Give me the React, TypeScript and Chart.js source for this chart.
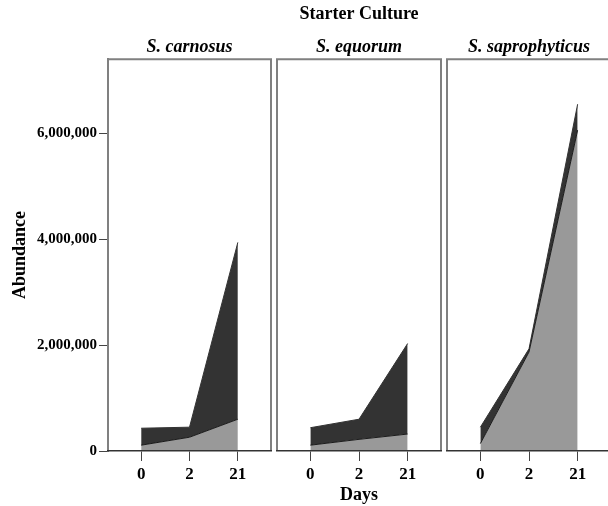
import React, { useEffect, useRef } from 'react';
import { Chart, registerables } from 'chart.js';

Chart.register(...registerables);

// ---- data ----
const MAIN_TITLE = 'Starter Culture';
const X_TITLE = 'Days';
const Y_TITLE = 'Abundance';
const DAY_LABELS = ['0', '2', '21'];
const SPECIES = ['S. carnosus', 'S. equorum', 'S. saprophyticus'];
const Y_TICKS = [0, 2000000, 4000000, 6000000];
const Y_MAX = 7400000;
const X_MIN = -0.686;
const X_MAX = 2.686;

// lower (light grey) and upper (dark) stacked areas per starter culture
const CARNOSUS_LOWER = [110000, 260000, 600000];
const CARNOSUS_UPPER = [320000, 190000, 3340000];
const EQUORUM_LOWER = [110000, 220000, 320000];
const EQUORUM_UPPER = [330000, 380000, 1710000];
const SAPRO_LOWER = [140000, 1870000, 6060000];
const SAPRO_UPPER = [310000, 60000, 490000];

const PANEL_LOWER = [CARNOSUS_LOWER, EQUORUM_LOWER, SAPRO_LOWER];
const PANEL_UPPER = [CARNOSUS_UPPER, EQUORUM_UPPER, SAPRO_UPPER];

// ---- layout / style ----
const FONT = '"Liberation Serif", "Times New Roman", serif';
const PANELS = [
  { left: 0, width: 274, padL: 0, padR: 3 },
  { left: 274, width: 170, padL: 3, padR: 3 },
  { left: 444, width: 170, padL: 3, padR: 3 },
];

const framePlugin = {
  id: 'panelFrame',
  afterDatasetsDraw(chart: any) {
    const { ctx, chartArea } = chart;
    const { left, right, top, bottom } = chartArea;
    ctx.save();
    ctx.strokeStyle = '#808080';
    ctx.lineWidth = 2;
    ctx.beginPath();
    ctx.moveTo(left, bottom);
    ctx.lineTo(left, top);
    ctx.lineTo(right, top);
    ctx.lineTo(right, bottom);
    ctx.stroke();
    ctx.restore();
  },
};

function Panel({ idx }: { idx: number }) {
  const ref = useRef<HTMLCanvasElement | null>(null);
  const p = PANELS[idx];
  useEffect(() => {
    if (!ref.current) return;
    const showY = idx === 0;
    const center = idx === 1;
    const chart = new Chart(ref.current, {
      type: 'line',
      data: {
        datasets: [
          {
            label: 'Lower',
            data: PANEL_LOWER[idx].map((v, i) => ({ x: i, y: v })),
            fill: 'origin',
            backgroundColor: '#999999',
            borderColor: '#1a1a1a',
            borderWidth: 1,
            pointRadius: 0,
            tension: 0,
          },
          {
            label: 'Upper',
            data: PANEL_UPPER[idx].map((v, i) => ({ x: i, y: v })),
            fill: '-1',
            backgroundColor: '#333333',
            borderColor: '#333333',
            borderWidth: 1,
            pointRadius: 0,
            tension: 0,
          },
        ],
      },
      options: {
        animation: false,
        responsive: false,
        maintainAspectRatio: false,
        layout: { padding: { left: p.padL, right: p.padR, top: 0, bottom: 0 } },
        plugins: {
          legend: { display: false },
          tooltip: { enabled: false },
          title: {
            display: true,
            fullSize: false,
            text: center ? MAIN_TITLE : ' ',
            color: '#000',
            font: { family: FONT, size: 18, weight: 'bold' },
            padding: { top: 4, bottom: 6 },
          },
          subtitle: {
            display: true,
            fullSize: false,
            text: SPECIES[idx],
            color: '#000',
            font: { family: FONT, size: 18, weight: 'bold', style: 'italic' },
            padding: { top: 5, bottom: 1 },
          },
        },
        scales: {
          x: {
            type: 'linear',
            min: X_MIN,
            max: X_MAX,
            afterBuildTicks: (s: any) => {
              s.ticks = DAY_LABELS.map((_, i) => ({ value: i }));
            },
            afterFit: (s: any) => {
              s.height = 55;
            },
            ticks: {
              callback: (v: any) => DAY_LABELS[v] ?? '',
              color: '#000',
              font: { family: FONT, size: 17, weight: 'bold' },
              padding: 3,
              maxRotation: 0,
              autoSkip: false,
            },
            grid: {
              display: true,
              drawOnChartArea: false,
              drawTicks: true,
              tickLength: 10,
              color: '#444',
              lineWidth: 1,
            },
            border: { display: true, color: '#333', width: 1.5, z: 1 },
            title: {
              display: center,
              text: X_TITLE,
              color: '#000',
              font: { family: FONT, size: 18, weight: 'bold' },
              padding: { top: 0, bottom: 0 },
            },
          },
          y: {
            display: showY,
            stacked: true,
            min: 0,
            max: Y_MAX,
            afterBuildTicks: (s: any) => {
              s.ticks = Y_TICKS.map((v) => ({ value: v }));
            },
            afterFit: (s: any) => {
              s.width = showY ? 108 : 0;
            },
            ticks: {
              callback: (v: any) => Number(v).toLocaleString('en-US'),
              color: '#000',
              font: { family: FONT, size: 15, weight: 'bold' },
              padding: 2,
            },
            grid: {
              display: true,
              drawOnChartArea: false,
              drawTicks: true,
              tickLength: 9,
              color: '#444',
              lineWidth: 1,
            },
            border: { display: true, color: '#808080', width: 2 },
            title: {
              display: true,
              text: Y_TITLE,
              color: '#000',
              font: { family: FONT, size: 18, weight: 'bold' },
              padding: { top: 10, bottom: 0 },
            },
          },
        },
      },
      plugins: [framePlugin],
    } as any);
    return () => chart.destroy();
  }, [idx]);
  return (
    <canvas
      ref={ref}
      width={p.width}
      height={506}
      style={{ position: 'absolute', left: p.left, top: 0, width: p.width, height: 506 }}
    />
  );
}

export default function App() {
  return (
    <div
      style={{
        position: 'absolute',
        left: 0,
        top: 0,
        width: 608,
        height: 506,
        overflow: 'hidden',
        background: '#fff',
      }}
    >
      {[0, 1, 2].map((i) => (
        <Panel key={i} idx={i} />
      ))}
    </div>
  );
}
